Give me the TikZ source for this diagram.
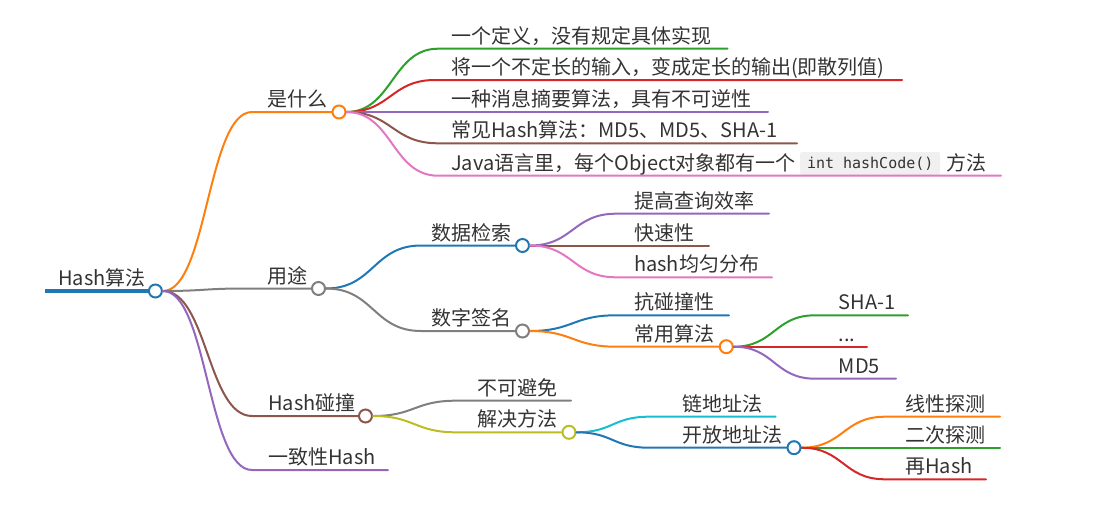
\documentclass[tikz,border=0pt]{standalone}
\usepackage{fontspec}
\setmainfont{Noto Sans CJK SC}
\newfontfamily\codefont{DejaVu Sans Mono}
\usetikzlibrary{calc}
\definecolor{cblue}{HTML}{1F77B4}
\definecolor{corange}{HTML}{FF7F0E}
\definecolor{cgreen}{HTML}{2CA02C}
\definecolor{cred}{HTML}{D62728}
\definecolor{cpurple}{HTML}{9467BD}
\definecolor{cbrown}{HTML}{8C564B}
\definecolor{cpink}{HTML}{E377C2}
\definecolor{cgray}{HTML}{7F7F7F}
\definecolor{colive}{HTML}{BCBD22}
\definecolor{ccyan}{HTML}{17BECF}
\definecolor{txt}{HTML}{333333}
\definecolor{codebg}{HTML}{F0F0F0}
\begin{document}
\begin{tikzpicture}[x=1pt,y=-1pt,
  font=\fontsize{20}{24}\selectfont,
  lbl/.style={anchor=base west, inner sep=0pt, text=txt},
  dot/.style={circle, draw=#1, fill=white, line width=2pt, inner sep=0pt, minimum size=13pt},
  ln/.style={draw=#1, line width=2pt, line cap=round},
  link/.style={to path={let \p1=(\tikztostart), \p2=(\tikztotarget), \n1={(\x2-\x1)/2} in .. controls ({\x1+\n1},\y1) and ({\x2-\n1},\y2) .. (\tikztotarget)}},
]
\useasboundingbox (0,0) rectangle (1096,522);

% ---------- root ----------
\coordinate (rs) at (45,291);
\node[dot=cblue] (root) at (155.4,291) {};
\node[lbl] (troot) at (58,285.5) {Hash算法};
\draw[draw=cblue, line width=4.5pt] (rs) -- (root.west);

% ---------- level 1 ----------
\node[dot=corange] (c1) at (339,112) {};
\coordinate (s1) at (252,112);
\node[lbl] (t1) at (267,106.5) {是什么};
\draw[ln=corange] (root.east) to[link] (s1) -- (c1.west);

\node[dot=cgray] (c2) at (318.5,288.5) {};
\coordinate (s2) at (245,288.5);
\node[lbl] (t2) at (267,283) {用途};
\draw[ln=cgray] (root.east) to[link] (s2) -- (c2.west);

\node[dot=cbrown] (c3) at (365.5,416) {};
\coordinate (s3) at (252,416);
\node[lbl] (t3) at (268,410.5) {Hash碰撞};
\draw[ln=cbrown] (root.east) to[link] (s3) -- (c3.west);

\coordinate (s4) at (252,470);
\coordinate (e4) at (388,470);
\node[lbl] (t4) at (268,464.5) {一致性Hash};
\draw[ln=cpurple] (root.east) to[link] (s4) -- (e4);

% ---------- 是什么 children ----------
\coordinate (s11) at (438,48.7);  \coordinate (e11) at (727.5,48.7);
\node[lbl] (t11) at (451,43.2) {一个定义，没有规定具体实现};
\draw[ln=cgreen] (c1.east) to[link] (s11) -- (e11);

\coordinate (s12) at (435,80);  \coordinate (e12) at (902,80);
\node[lbl] (t12) at (451,74.5) {将一个不定长的输入，变成定长的输出(即散列值)};
\draw[ln=cred] (c1.east) to[link] (s12) -- (e12);

\coordinate (e13) at (768,112);
\node[lbl] (t13) at (451,106.5) {一种消息摘要算法，具有不可逆性};
\draw[ln=cpurple] (c1.east) -- (e13);

\coordinate (s14) at (438,143.3);  \coordinate (e14) at (797,143.3);
\node[lbl] (t14) at (451,137.8) {常见Hash算法：MD5、MD5、SHA-1};
\draw[ln=cbrown] (c1.east) to[link] (s14) -- (e14);

\coordinate (s15) at (438,175.7);  \coordinate (e15) at (1001,175.7);
\node[lbl] (t15) at (451,170.2) {Java语言里，每个Object对象都有一个};
\node[anchor=west, fill=codebg, rounded corners=2pt, inner xsep=6.8pt, inner ysep=0pt,
      minimum height=23pt, text=txt, font=\codefont\fontsize{15}{18}\selectfont] (code) at (800,163.5) {int hashCode()};
\node[lbl] (t15b) at (946,170.2) {方法};
\draw[ln=cpink] (c1.east) to[link] (s15) -- (e15);

% ---------- 用途 children ----------
\node[dot=cblue] (c21) at (522.5,245.5) {};
\coordinate (s21) at (421,245.5);
\node[lbl] (t21) at (431,240) {数据检索};
\draw[ln=cblue] (c2.east) to[link] (s21) -- (c21.west);

\node[dot=cgray] (c22) at (522.5,331) {};
\coordinate (s22) at (421,331);
\node[lbl] (t22) at (431,325.5) {数字签名};
\draw[ln=cgray] (c2.east) to[link] (s22) -- (c22.west);

% 数据检索 children
\coordinate (s211) at (616,213.7); \coordinate (e211) at (769,213.7);
\node[lbl] (t211) at (634,208.2) {提高查询效率};
\draw[ln=cpurple] (c21.east) to[link] (s211) -- (e211);

\coordinate (e212) at (709,245.5);
\node[lbl] (t212) at (634,240) {快速性};
\draw[ln=cbrown] (c21.east) -- (e212);

\coordinate (s213) at (616,277.3); \coordinate (e213) at (772,277.3);
\node[lbl] (t213) at (634,271.8) {hash均匀分布};
\draw[ln=cpink] (c21.east) to[link] (s213) -- (e213);

% 数字签名 children
\coordinate (s221) at (616,315.3); \coordinate (e221) at (729,315.3);
\node[lbl] (t221) at (634,309.8) {抗碰撞性};
\draw[ln=cblue] (c22.east) to[link] (s221) -- (e221);

\node[dot=corange] (c222) at (726.3,346.7) {};
\coordinate (s222) at (616,346.7);
\node[lbl] (t222) at (634,341.2) {常用算法};
\draw[ln=corange] (c22.east) to[link] (s222) -- (c222.west);

% 常用算法 children
\coordinate (s2221) at (815,315.3); \coordinate (e2221) at (908,315.3);
\node[lbl] (t2221) at (838.6,309.8) {SHA-1};
\draw[ln=cgreen] (c222.east) to[link] (s2221) -- (e2221);

\coordinate (e2222) at (867,346.7);
\node[lbl] (t2222) at (838.6,341.2) {...};
\draw[ln=cred] (c222.east) -- (e2222);

\coordinate (s2223) at (815,378.7); \coordinate (e2223) at (896,378.7);
\node[lbl] (t2223) at (838.6,373.2) {MD5};
\draw[ln=cpurple] (c222.east) to[link] (s2223) -- (e2223);

% ---------- Hash碰撞 children ----------
\coordinate (s31) at (456,400.7); \coordinate (e31) at (571,400.7);
\node[lbl] (t31) at (477.5,395.2) {不可避免};
\draw[ln=cgray] (c3.east) to[link] (s31) -- (e31);

\node[dot=colive] (c32) at (569,432.3) {};
\coordinate (s32) at (456,432.3);
\node[lbl] (t32) at (477.5,426.8) {解决方法};
\draw[ln=colive] (c3.east) to[link] (s32) -- (c32.west);

% 解决方法 children
\coordinate (s321) at (649,416.7); \coordinate (e321) at (775.6,416.7);
\node[lbl] (t321) at (682,411.2) {链地址法};
\draw[ln=ccyan] (c32.east) to[link] (s321) -- (e321);

\node[dot=cblue] (c322) at (794,447.7) {};
\coordinate (s322) at (649,447.7);
\node[lbl] (t322) at (682,442.2) {开放地址法};
\draw[ln=cblue] (c32.east) to[link] (s322) -- (c322.west);

% 开放地址法 children
\coordinate (s3221) at (885,416.7); \coordinate (e3221) at (1000,416.7);
\node[lbl] (t3221) at (905,411.2) {线性探测};
\draw[ln=corange] (c322.east) to[link] (s3221) -- (e3221);

\coordinate (e3222) at (1000,447.7);
\node[lbl] (t3222) at (905,442.2) {二次探测};
\draw[ln=cgreen] (c322.east) -- (e3222);

\coordinate (s3223) at (885,479.3); \coordinate (e3223) at (986,479.3);
\node[lbl] (t3223) at (905,473.8) {再Hash};
\draw[ln=cred] (c322.east) to[link] (s3223) -- (e3223);
\end{tikzpicture}
\end{document}
